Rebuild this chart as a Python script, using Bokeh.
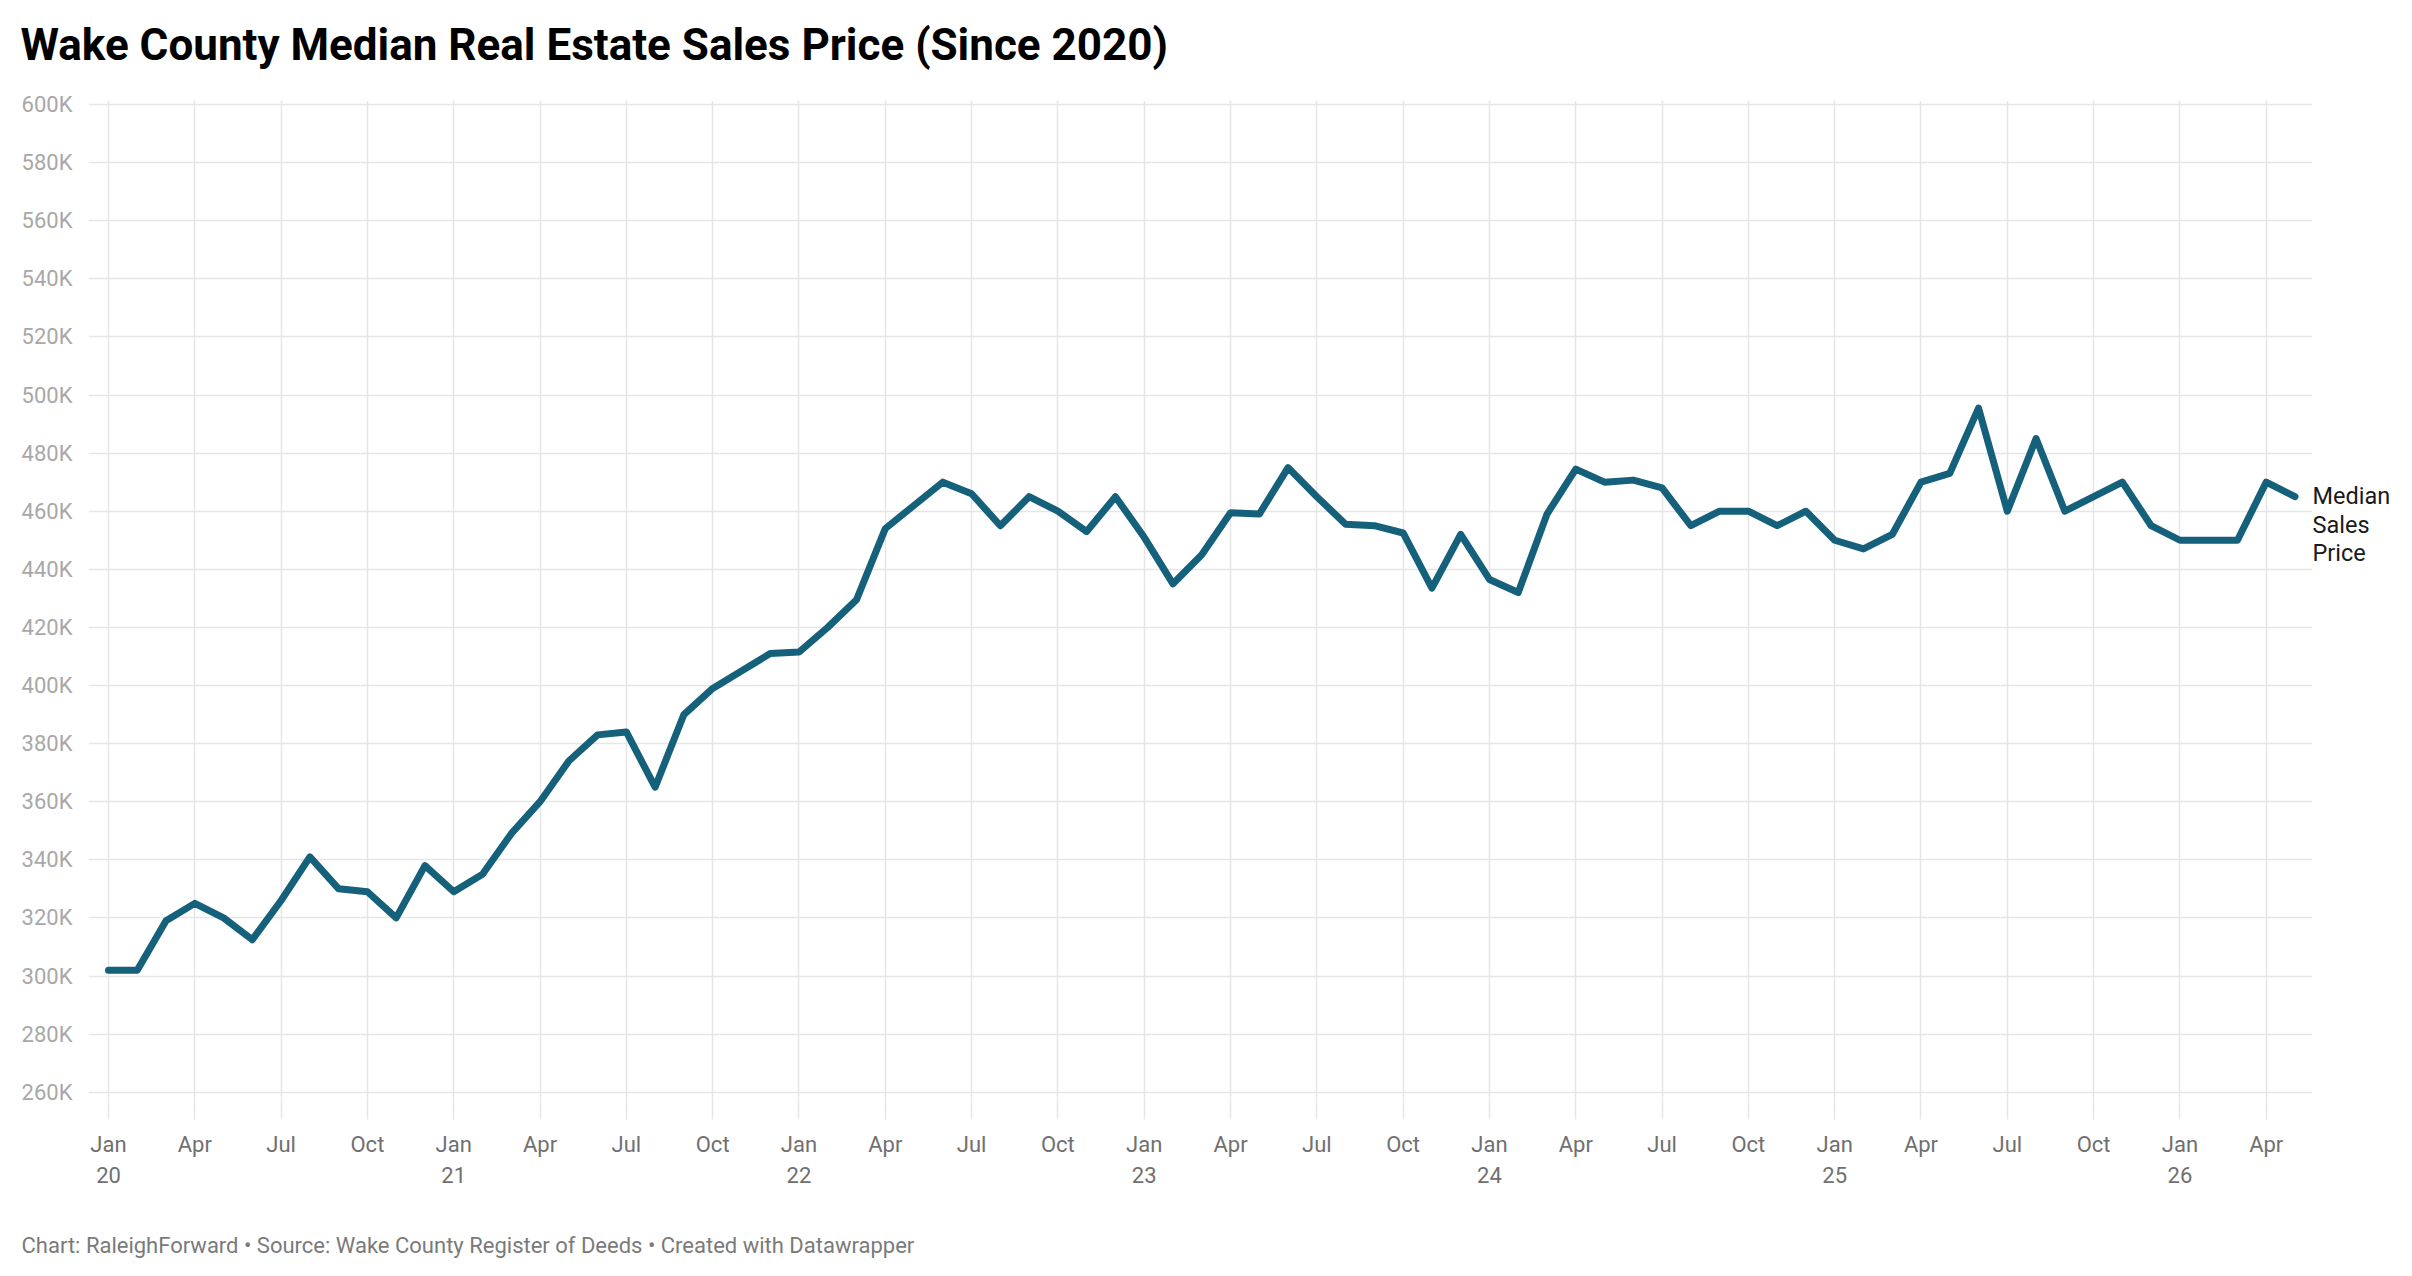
from bokeh.plotting import figure
from bokeh.models import Range1d, FixedTicker, LinearAxis, Title
from bokeh.embed import file_html
from bokeh.resources import INLINE

# ---- data (median sales price, thousands of $) ----
years = [2020, 2021, 2022, 2023, 2024, 2025, 2026]
month_names = ["Jan", "Feb", "Mar", "Apr", "May", "Jun", "Jul", "Aug", "Sep", "Oct", "Nov", "Dec"]

price_2020 = [302, 302, 319, 325, 320, 312.5, 326, 341, 330, 329, 320, 338]
price_2021 = [329, 335, 349, 360, 374, 383, 384, 365, 390, 399, 405, 411]
price_2022 = [411.5, 420, 429.5, 454, 462, 470, 466, 455, 465, 460, 453, 465]
price_2023 = [451, 435, 445, 459.5, 459, 475, 465, 455.5, 455, 452.5, 433.5, 452]
price_2024 = [436.5, 432, 459, 474.5, 470, 470.7, 468, 455, 460, 460, 455, 460]
price_2025 = [450, 447, 452, 470, 473, 495.5, 460, 485, 460, 465, 470, 455]
price_2026 = [450, 450, 450, 470, 465]

prices = price_2020 + price_2021 + price_2022 + price_2023 + price_2024 + price_2025 + price_2026
month_index = list(range(len(prices)))  # 0 = Jan 2020

y_ticks = [260, 280, 300, 320, 340, 360, 380, 400, 420, 440, 460, 480, 500, 520, 540, 560, 580, 600]
x_ticks = list(range(0, 76, 3))
x_tick_labels = {}
for t in x_ticks:
    m = t % 12
    label = month_names[m]
    if m == 0:
        label = label + "\n" + str(years[t // 12])[2:]
    x_tick_labels[t] = label

title_text = "Wake County Median Real Estate Sales Price (Since 2020)"
footer_text = "Chart: RaleighForward \u2022 Source: Wake County Register of Deeds \u2022 Created with Datawrapper"
series_label = "Median\nSales\nPrice"

# ---- figure ----
W, H = 2412, 1276
Y0, Y1 = 258.52, 601.377
FRAME_H = 996
p = figure(width=W, height=H, output_backend="svg", toolbar_location=None,
           x_range=Range1d(-0.695, 76.608), y_range=Range1d(Y0, Y1),
           min_border_left=88, min_border_right=100, min_border_top=100, min_border_bottom=180)
p.outline_line_color = None
p.background_fill_color = "white"
p.border_fill_color = "white"

LINE = "#15607a"
GRID = "#e6e6e6"
FONT = "Roboto"

p.line(month_index, prices, line_color=LINE, line_width=7, line_cap="round", line_join="round")

# grids
p.xgrid.ticker = FixedTicker(ticks=x_ticks)
p.ygrid.ticker = FixedTicker(ticks=y_ticks)
p.xgrid.grid_line_color = GRID
p.ygrid.grid_line_color = GRID
p.xgrid.grid_line_width = 1.5
p.ygrid.grid_line_width = 1.5

# x axis
xa = p.xaxis[0]
xa.ticker = FixedTicker(ticks=x_ticks)
xa.major_label_overrides = x_tick_labels
xa.axis_line_color = None
xa.major_tick_line_color = GRID
xa.major_tick_line_width = 1.5
xa.major_tick_in = 0
xa.major_tick_out = 23
xa.minor_tick_line_color = None
xa.major_label_standoff = 12
xa.major_label_text_font = FONT
xa.major_label_text_font_size = "22px"
xa.major_label_text_color = "#707070"
xa.major_label_text_line_height = 1.27

# y axis
ya = p.yaxis[0]
ya.ticker = FixedTicker(ticks=y_ticks)
ya.major_label_overrides = {v: f"{v}K" for v in y_ticks}
ya.axis_line_color = None
ya.major_tick_line_color = None
ya.minor_tick_line_color = None
ya.major_label_standoff = 10
ya.major_label_text_font = FONT
ya.major_label_text_font_size = "22px"
ya.major_label_text_color = "#a8a8a8"

# series label at the line end (right axis, centred so first line sits on last value)
px_per_k = FRAME_H / (Y1 - Y0)
label_tick = round(prices[-1] - 28 / px_per_k, 1)
ra = LinearAxis(ticker=FixedTicker(ticks=[label_tick]),
                major_label_overrides={label_tick: series_label})
ra.axis_line_color = None
ra.major_tick_line_color = None
ra.minor_tick_line_color = None
ra.major_tick_out = 0
ra.major_tick_in = 0
ra.major_label_standoff = 0
ra.major_label_text_font = FONT
ra.major_label_text_font_size = "23.5px"
ra.major_label_text_color = "#1a1a1a"
ra.major_label_text_line_height = 1.03
p.add_layout(ra, "right")

# title (spacer closest to frame, then title)
p.add_layout(Title(text=" ", text_font_size="1px", standoff=27), "above")
p.add_layout(Title(text=title_text, text_font=FONT, text_font_style="bold", text_font_size="44px",
                   text_color="#000000", align="left", offset=-68, standoff=0,
                   vertical_align="bottom"), "above")

# footer (spacer after the x axis, then footer)
p.add_layout(Title(text=" ", text_font_size="1px", standoff=38), "below")
p.add_layout(Title(text=footer_text, text_font=FONT, text_font_style="normal", text_font_size="22px",
                   text_color="#7a7a7a", align="left", offset=-67, standoff=0,
                   vertical_align="top"), "below")

open("out.html", "w").write(file_html(p, INLINE))
